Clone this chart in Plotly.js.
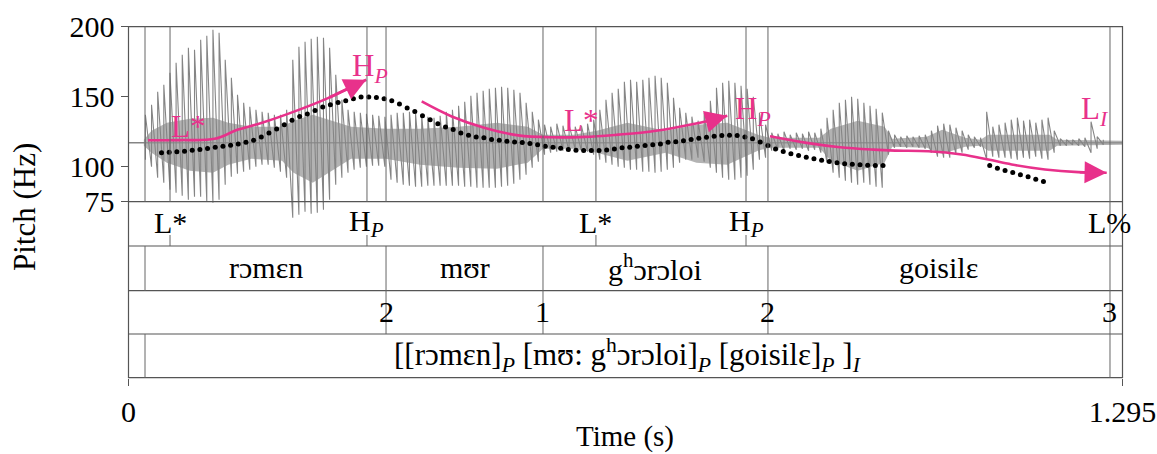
<!DOCTYPE html>
<html><head><meta charset="utf-8">
<script src="https://cdn.plot.ly/plotly-3.0.1.min.js"></script>
<style>html,body{margin:0;padding:0;background:#fff}#chart{width:1157px;height:454px}</style>
</head><body><div id="chart"></div>
<script>
// ---------------- DATA ----------------
const yTicks = [75, 100, 150, 200];
const xTickVals = [0, 1.295];
const xTickText = ['0', '1.295'];

// pitch track (black dots), Hz
const pitchTimes = [0.043,0.053,0.063,0.073,0.083,0.093,0.103,0.113,0.123,0.133,
0.143,0.153,0.163,0.173,0.183,0.193,0.203,0.213,0.223,0.233,
0.243,0.253,0.263,0.273,0.283,0.293,0.303,0.313,0.323,0.333,
0.343,0.353,0.363,0.373,0.383,0.393,0.403,0.413,0.423,0.433,
0.443,0.453,0.463,0.473,0.483,0.493,0.503,0.513,0.523,0.533,
0.543,0.553,0.563,0.573,0.583,0.593,0.603,0.613,0.623,0.633,
0.643,0.653,0.663,0.673,0.683,0.693,0.703,0.713,0.723,0.733,
0.743,0.753,0.763,0.773,0.783,0.793,0.803,0.813,0.823,0.833,
0.843,0.853,0.863,0.873,0.883,0.893,0.903,0.913,0.923,0.933,
0.943,0.953,0.963,0.973,0.983];
const pitchHz = [109.9,110.3,110.6,111.0,111.7,112.2,113.0,113.9,114.6,115.3,
116.3,117.4,118.9,121.3,124.1,127.0,130.0,133.1,135.9,137.7,
140.2,142.6,144.3,145.9,147.1,148.5,149.8,149.8,149.5,148.5,
147.1,144.8,141.9,139.5,136.4,133.6,130.7,128.4,126.5,124.1,
122.4,121.3,120.6,119.4,118.9,118.1,117.7,117.2,116.5,115.6,
114.6,113.9,113.2,112.2,111.7,111.5,111.5,111.5,112.0,112.7,
113.5,113.9,114.6,115.1,115.6,116.3,117.4,117.9,118.6,119.4,
120.3,121.0,121.7,122.2,122.4,122.2,121.3,119.9,117.7,115.1,
112.7,110.8,109.2,108.0,106.8,105.6,104.6,103.7,102.8,102.1,
101.8,101.4,101.1,100.9,100.9];
const pitch2Times = [1.122,1.132,1.142,1.152,1.162,1.172,1.182,1.192];
const pitch2Hz = [100.9,98.9,97.3,95.9,94.2,92.8,91.1,89.5];

// stylised contour arrows (pink), Hz
const rise1Times = [0.0254,0.0671,0.1123,0.1427,0.1730,0.2165,0.2599,0.3098];
const rise1Hz    = [118.9,119.0,119.9,126.5,131.2,139.5,149.0,162.1];
const dip2Times  = [0.3820,0.4211,0.4644,0.5078,0.5513,0.5947,0.6381,0.6729,0.7097,0.7533,0.7801];
const dip2Hz     = [146.6,135.9,127.7,122.4,121.0,121.3,122.9,124.6,127.7,132.4,136.4];
const fall3Times = [0.8357,0.8835,0.9269,0.9703,0.9987,1.0420,1.0855,1.1201,1.1506,1.1940,1.2374,1.2744];
const fall3Hz    = [121.7,117.0,113.9,112.2,111.5,111.0,108.7,105.1,101.6,98.0,96.1,95.7];

// waveform (arbitrary amplitude units, 0 = rest line): peak / trough per period
const waveT = [0.022,0.030,0.038,0.046,0.054,0.062,0.070,0.078,0.086,0.094,0.102,0.110,0.118,0.126,0.134,0.142,0.150,0.158,0.166,0.174,
0.182,0.190,0.198,0.206,0.214,0.222,0.230,0.238,0.246,0.254,0.262,0.270,0.278,0.286,0.294,0.302,0.310,0.318,0.326,0.334,
0.342,0.350,0.358,0.366,0.374,0.382,0.390,0.398,0.406,0.414,0.422,0.430,0.438,0.446,0.454,0.462,0.470,0.478,0.486,0.494,
0.502,0.510,0.518,0.526,0.534,0.542,0.550,0.558,0.566,0.574,0.582,0.590,0.598,0.606,0.614,0.622,0.630,0.638,0.646,0.654,
0.662,0.670,0.678,0.686,0.694,0.702,0.710,0.718,0.726,0.734,0.742,0.750,0.758,0.766,0.774,0.782,0.790,0.798,0.806,0.814,
0.822,0.830,0.838,0.846,0.854,0.862,0.870,0.878,0.886,0.894,0.902,0.910,0.918,0.926,0.934,0.942,0.950,0.958,0.966,0.974,
0.982,0.990,0.998,1.006,1.014,1.022,1.030,1.038,1.046,1.054,1.062,1.070,1.078,1.086,1.094,1.102,1.110,1.118,1.126,1.134,
1.142,1.150,1.158,1.166,1.174,1.182,1.190,1.198,1.206,1.214,1.222,1.230,1.238,1.246,1.254,1.262,1.270];
const waveTop = [28,38,51,58,70,80,88,95,93,103,107,113,110,83,65,48,40,36,33,31,
30,28,28,33,83,96,101,104,106,105,95,68,43,33,31,30,29,28,27,26,
28,30,30,31,29,27,26,25,27,31,33,37,41,47,50,52,54,55,56,55,
53,50,40,31,23,18,16,19,17,18,16,17,19,23,33,43,50,54,61,63,
61,63,65,67,65,60,45,35,30,26,22,30,42,55,60,62,60,57,54,46,
30,18,10,9,11,8,10,9,11,10,14,25,33,40,43,46,44,40,37,34,
30,12,8,6,7,6,7,8,12,17,19,18,15,12,8,6,5,31,16,18,
20,23,25,22,23,20,23,25,12,4,3,3,4,5,21,6,3];
const waveBot = [-17,-24,-35,-40,-47,-50,-53,-57,-54,-54,-59,-60,-57,-42,-34,-31,-29,-27,-24,-22,
-22,-25,-29,-35,-75,-72,-69,-71,-70,-67,-57,-42,-35,-30,-27,-25,-24,-23,-23,-24,
-37,-40,-42,-43,-44,-44,-43,-43,-43,-43,-43,-43,-44,-44,-45,-45,-45,-45,-44,-43,
-41,-37,-32,-25,-19,-12,-10,-9,-8,-9,-7,-8,-9,-12,-17,-20,-22,-24,-25,-27,
-27,-29,-29,-30,-29,-27,-25,-20,-17,-17,-15,-19,-25,-30,-35,-37,-37,-35,-33,-27,
-17,-15,-8,-7,-8,-6,-7,-6,-8,-7,-10,-20,-30,-35,-38,-40,-42,-40,-42,-44,
-45,-12,-5,-4,-5,-4,-5,-6,-10,-14,-15,-15,-12,-10,-7,-5,-4,-17,-14,-15,
-15,-16,-17,-15,-16,-14,-16,-17,-10,-3,-3,-2,-3,-4,-10,-6,-2];
// dense inner part of the waveform
const coreT   = [0.020,0.030,0.050,0.080,0.110,0.130,0.160,0.200,0.215,0.240,0.265,0.290,0.335,0.380,0.430,0.480,0.520,0.540,0.580,0.610,0.650,0.700,0.740,0.780,0.820,0.835,0.900,0.915,0.950,0.985,0.995,1.040,1.060,1.090,1.110,1.120,1.200,1.210,1.295];
const coreTop = [3,12,20,24,25,20,16,16,22,28,22,16,14,14,16,20,16,8,8,12,20,12,18,20,8,5,5,14,22,16,4,6,13,5,3,8,8,3,2];
const coreBot = [-3,-10,-20,-28,-30,-22,-16,-18,-30,-40,-28,-16,-16,-22,-25,-26,-20,-6,-6,-10,-18,-10,-20,-22,-8,-5,-5,-18,-28,-20,-4,-5,-11,-4,-3,-8,-8,-3,-2];

// TextGrid tiers
const toneTimes  = [0.0541, 0.3107, 0.6090, 0.8045, 1.2787];
const toneLabels = ['L*', 'H<sub><i>P</i></sub>', 'L*', 'H<sub><i>P</i></sub>', 'L%'];
const wordBounds = [0.0215, 0.3355, 0.5400, 0.8331, 1.2787];
const wordLabels = ['rɔmɛn', 'mʊr', 'g<sup>h</sup>ɔrɔloi', 'goisilɛ'];
const breakTimes  = [0.3355, 0.5400, 0.8331, 1.2787];
const breakLabels = ['2', '1', '2', '3'];
const phraseBounds = [0.0215, 1.2787];
const phraseLabel = '[[rɔmɛn]<sub><i>P</i></sub> [mʊ: g<sup>h</sup>ɔrɔloi]<sub><i>P</i></sub> [goisilɛ]<sub><i>P</i></sub> ]<sub><i>I</i></sub>';

// ---------------- LAYOUT GEOMETRY ----------------
const W = 1157, H = 454;
const X0 = 128.5, X1 = 1122.5;
const Y_TOP = 26.7, Y_PITCH = 201.7, Y_T1 = 246, Y_T2 = 290.7, Y_T3 = 334, Y_BOT = 377.7;
const px = p => p / W;
const py = p => 1 - p / H;
const FONT = 'Liberation Serif, Times New Roman, serif';
const PINK = '#e8318b';
const LINE = '#666';
const FRAME = '#555';
const WAVE = '#858585';

// ---------------- TRACES ----------------
const traces = [];
traces.push({x: [0, 1.295], y: [0, 0], yaxis: 'y', mode: 'lines', line: {color: WAVE, width: 1.6}, hoverinfo: 'skip'});
traces.push({x: coreT.concat(coreT.slice().reverse()), y: coreTop.concat(coreBot.slice().reverse()),
  yaxis: 'y', mode: 'lines', fill: 'toself', fillcolor: 'rgba(150,150,150,0.72)', line: {width: 0}, hoverinfo: 'skip'});
// each period: trough -> peak (vertical), then peak -> next trough
const sx = [], sy = [];
waveT.forEach((t, i) => { sx.push(t, t); sy.push(waveBot[i], waveTop[i]); });
traces.push({x: sx, y: sy, yaxis: 'y', mode: 'lines', line: {color: WAVE, width: 1.1}, hoverinfo: 'skip'});

traces.push({x: pitchTimes, y: pitchHz, yaxis: 'y2', mode: 'markers', marker: {color: '#000', size: 5}});
traces.push({x: pitch2Times, y: pitch2Hz, yaxis: 'y2', mode: 'markers', marker: {color: '#000', size: 5}});

const curves = [[rise1Times, rise1Hz], [dip2Times, dip2Hz], [fall3Times, fall3Hz]];
curves.forEach(([t, h]) => {
  traces.push({x: t, y: h, yaxis: 'y2', mode: 'lines', line: {color: PINK, width: 2.6, shape: 'spline', smoothing: 1}});
});

// ---------------- SHAPES ----------------
const shapes = [];
const hline = (y) => shapes.push({type: 'line', xref: 'paper', yref: 'paper', x0: px(X0), x1: px(X1), y0: py(y), y1: py(y), line: {color: FRAME, width: 1.2}});
shapes.push({type: 'rect', xref: 'paper', yref: 'paper', x0: px(X0), x1: px(X1), y0: py(Y_BOT), y1: py(Y_TOP), line: {color: FRAME, width: 1.2}});
[Y_PITCH, Y_T1, Y_T2, Y_T3].forEach(hline);
const vline = (t, ya, yb, c) => shapes.push({type: 'line', xref: 'x', yref: 'paper', x0: t, x1: t, y0: py(ya), y1: py(yb), line: {color: c || LINE, width: 1}});
const allBounds = Array.from(new Set([].concat(toneTimes, wordBounds, breakTimes, phraseBounds)));
allBounds.forEach(t => vline(t, Y_PITCH, Y_TOP));
toneTimes.forEach((t, i) => { if (toneLabels[i] === 'L%') vline(t, Y_T1, Y_PITCH); else vline(t, Y_T1, Y_T1 - 11); });
wordBounds.forEach(t => vline(t, Y_T2, Y_T1));
breakTimes.forEach(t => vline(t, Y_T3, Y_T2));
phraseBounds.forEach(t => vline(t, Y_BOT, Y_T3));

// ---------------- ANNOTATIONS ----------------
const ann = [];
const tierText = (x, yc, text, size) => ann.push({x: x, y: py(yc), xref: 'x', yref: 'paper', text: text, showarrow: false,
  xanchor: 'center', yanchor: 'middle', font: {family: FONT, size: size || 30, color: '#000'}});
toneTimes.forEach((t, i) => tierText(t, 223, toneLabels[i]));
wordLabels.forEach((w, i) => tierText((wordBounds[i] + wordBounds[i + 1]) / 2, 267, w));
breakTimes.forEach((t, i) => tierText(t, 311, breakLabels[i]));
tierText((phraseBounds[0] + phraseBounds[1]) / 2, 355, phraseLabel, 31);

// arrowheads at the ends of the pink curves
curves.forEach(([t, h]) => {
  const n = t.length;
  ann.push({x: t[n - 1], y: h[n - 1], xref: 'x', yref: 'y2', ax: t[n - 2], ay: h[n - 2], axref: 'x', ayref: 'y2',
    text: '', showarrow: true, arrowhead: 2, arrowsize: 1.7, arrowwidth: 2.6, arrowcolor: PINK, standoff: 0});
});
const pinkText = (t, hz, text) => ann.push({x: t, y: hz, xref: 'x', yref: 'y2', text: text, showarrow: false,
  xanchor: 'center', yanchor: 'middle', font: {family: FONT, size: 31, color: PINK}});
pinkText(0.0775, 128.6, 'L*');
pinkText(0.3146, 170.6, 'H<sub><i>P</i></sub>');
pinkText(0.5895, 132.9, 'L*');
pinkText(0.8136, 140.0, 'H<sub><i>P</i></sub>');
pinkText(1.2591, 140.0, 'L<sub><i>I</i></sub>');

ann.push({x: px(24), y: py(207), xref: 'paper', yref: 'paper', text: 'Pitch (Hz)', textangle: -90, showarrow: false,
  xanchor: 'center', yanchor: 'middle', font: {family: FONT, size: 31, color: '#000'}});
ann.push({x: px((X0 + X1) / 2), y: py(436), xref: 'paper', yref: 'paper', text: 'Time (s)', showarrow: false,
  xanchor: 'center', yanchor: 'middle', font: {family: FONT, size: 29, color: '#000'}});

const layout = {
  width: W, height: H, margin: {l: 0, r: 0, t: 0, b: 0},
  paper_bgcolor: '#fff', plot_bgcolor: 'rgba(0,0,0,0)', showlegend: false,
  xaxis: {domain: [px(X0), px(X1)], range: [0, 1.295], anchor: 'free', position: py(Y_BOT),
    tickmode: 'array', tickvals: xTickVals, ticktext: xTickText, ticks: 'outside', ticklen: 7, tickcolor: FRAME,
    showgrid: false, zeroline: false, showline: false, tickfont: {family: FONT, size: 30, color: '#000'}},
  yaxis: {domain: [py(Y_T1), py(Y_TOP)], range: [-103.3, 116], anchor: 'x', visible: false, showgrid: false, zeroline: false},
  yaxis2: {domain: [py(Y_PITCH), py(Y_TOP)], range: [75, 200], anchor: 'x', tickmode: 'array', tickvals: yTicks,
    ticks: 'outside', ticklen: 7, tickcolor: FRAME, showgrid: false, zeroline: false, showline: false,
    tickfont: {family: FONT, size: 30, color: '#000'}},
  shapes: shapes, annotations: ann
};
Plotly.newPlot('chart', traces, layout, {staticPlot: true, displayModeBar: false});
</script></body></html>
